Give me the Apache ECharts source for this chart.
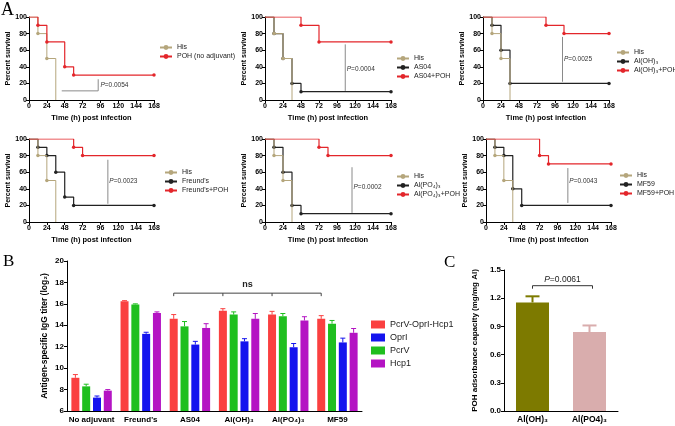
<!DOCTYPE html>
<html><head><meta charset="utf-8">
<script src="https://cdn.jsdelivr.net/npm/echarts@6/dist/echarts.min.js"></script>
<style>html,body{margin:0;padding:0;background:#fff}#c{width:675px;height:426px}</style>
</head><body><div id="c"></div>
<script>
// ---------- DATA ----------
// Panel A: Kaplan-Meier curves [time (h), percent survival]
const hisCurve   = [[0,100],[12,80],[24,50],[36,0]];
const pohNoAdj   = [[0,100],[12,90],[24,70],[48,40],[60,30],[168,30]];
const as04       = [[0,100],[12,80],[24,50],[36,20],[48,10],[168,10]];
const as04Poh    = [[0,100],[48,90],[72,70],[168,70]];
const alOH       = [[0,100],[12,90],[24,60],[36,20],[168,20]];
const alOHPoh    = [[0,100],[84,90],[108,80],[168,80]];
const freund     = [[0,100],[12,90],[24,80],[36,60],[48,30],[60,20],[168,20]];
const freundPoh  = [[0,100],[60,90],[72,80],[168,80]];
const alPO       = [[0,100],[12,90],[24,60],[36,20],[48,10],[168,10]];
const alPOPoh    = [[0,100],[72,90],[84,80],[168,80]];
const mf59       = [[0,100],[12,90],[24,80],[36,40],[48,20],[168,20]];
const mf59Poh    = [[0,100],[72,80],[84,70],[168,70]];
const pValuesA   = ['0.0054','0.0004','0.0025','0.0023','0.0002','0.0043'];

// Panel B: IgG titers (log2), mean and SEM
const groupsB   = ['No adjuvant', "Freund's", 'AS04', 'Al(OH)\u2083', 'Al(PO\u2084)\u2083', 'MF59'];
const fusion    = [9.1, 16.25, 14.6, 15.35, 15.0, 14.6];
const fusionErr = [0.3, 0.05, 0.4, 0.2, 0.3, 0.3];
const pcrv      = [8.3, 15.95, 13.9, 15.0, 14.85, 14.15];
const pcrvErr   = [0.2, 0.05, 0.45, 0.25, 0.25, 0.3];
const oprI      = [7.25, 13.2, 12.2, 12.5, 11.95, 12.4];
const oprIErr   = [0.15, 0.15, 0.3, 0.25, 0.35, 0.4];
const hcp1      = [7.9, 15.15, 13.75, 14.6, 14.45, 13.3];
const hcp1Err   = [0.1, 0.1, 0.4, 0.5, 0.35, 0.4];

// Panel C: POH adsorbance capacity
const groupsC   = ['Al(OH)\u2083', 'Al(PO4)\u2083'];
const adsorb    = [1.155, 0.84];
const adsorbErr = [0.065, 0.07];
const pValueC   = '0.0061';

// ---------- STYLE / LAYOUT ----------
const FONT = '"Liberation Sans", Arial, Helvetica, sans-serif';
const HIS = '#b5a67c', RED = '#e3262b', BLK = '#222222';
const BAR_COLORS = ['#fa4040', '#1fbf1f', '#1414ee', '#b414c3'];
const C_COLORS = ['#7d7a00', '#d9adad'];
const BW = 8, BGAP = 0.35;

const panelsA = [
  {grid:{left:29,top:17,width:125,height:83}, curves:[['His',hisCurve,'his'],['POH (no adjuvant)',pohNoAdj,'red']],
   legend:{left:159,top:44}, pLine:[[44,11],[93,11],[93,25]], pText:[96,18]},
  {grid:{left:265,top:17,width:126,height:83}, curves:[['His',hisCurve,'his'],['AS04',as04,'blk'],['AS04+POH',as04Poh,'red']],
   legend:{left:396,top:55}, pLine:[[107,11],[107,67]], pText:[109,37]},
  {grid:{left:483,top:17,width:126,height:83}, curves:[['His',hisCurve,'his'],['Al(OH)\u2083',alOH,'blk'],['Al(OH)\u2083+POH',alOHPoh,'red']],
   legend:{left:616,top:49}, pLine:[[106,22],[106,76]], pText:[108,49]},
  {grid:{left:29,top:139,width:125,height:83}, curves:[['His',hisCurve,'his'],["Freund's",freund,'blk'],["Freund's+POH",freundPoh,'red']],
   legend:{left:164,top:169}, pLine:[[106,22],[106,75]], pText:[108,49]},
  {grid:{left:265,top:139,width:126,height:83}, curves:[['His',hisCurve,'his'],['Al(PO\u2084)\u2083',alPO,'blk'],['Al(PO\u2084)\u2083+POH',alPOPoh,'red']],
   legend:{left:396,top:173}, pLine:[[116,11],[116,66]], pText:[118,42]},
  {grid:{left:486,top:139,width:125,height:83}, curves:[['His',hisCurve,'his'],['MF59',mf59,'blk'],['MF59+POH',mf59Poh,'red']],
   legend:{left:619,top:172}, pLine:[[110,23],[110,65]], pText:[112,49]}
];

const axisCommon = {
  axisLine:{show:true, lineStyle:{color:'#000', width:1}},
  axisTick:{show:true, length:3, lineStyle:{color:'#000', width:1}},
  splitLine:{show:false},
};

const grids = [], xAxes = [], yAxes = [], series = [], legends = [];

function stepSeries(gi, name, pts, kind) {
  const color = kind === 'his' ? HIS : kind === 'red' ? RED : BLK;
  return {
    type:'line', name, xAxisIndex:gi, yAxisIndex:gi, step:'end', color,
    data: pts.map((p,i) => (i === 0 || (kind === 'his' && i === pts.length-1)) ? {value:p, symbol:'none'} : p),
    symbol:'circle', symbolSize:3.5, showSymbol:true, showAllSymbol:true,
    lineStyle:{color, width: kind === 'his' ? 1 : 1.2}, itemStyle:{color},
    z: kind === 'red' ? 4 : (kind === 'his' ? 3 : 2), silent:true
  };
}

function pAnnot(gi, pts, tpos, ptxt) {
  return {
    type:'custom', xAxisIndex:gi, yAxisIndex:gi, silent:true, z:1, data:[[0,0]],
    renderItem:(params, api) => {
      const pp = pts.map(p => api.coord(p));
      const t = api.coord(tpos);
      return {type:'group', children:[
        {type:'polyline', shape:{points:pp}, style:{stroke:'#8a8a8a', lineWidth:1, fill:null}},
        {type:'text', x:t[0], y:t[1], style:{
          text:'{i|P}=' + ptxt, fontSize:6.5, fontFamily:FONT, fill:'#333',
          rich:{i:{fontStyle:'italic', fontSize:6.5, fontFamily:FONT, fill:'#333'}},
          verticalAlign:'middle', align:'left'}}
      ]};
    }
  };
}

panelsA.forEach((p, gi) => {
  grids.push(p.grid);
  xAxes.push(Object.assign({}, axisCommon, {
    gridIndex:gi, type:'value', min:0, max:168, interval:24,
    axisLabel:{fontSize:7, fontWeight:'bold', color:'#000', margin:3, fontFamily:FONT},
    name:'Time (h) post infection', nameLocation:'middle', nameGap:14,
    nameTextStyle:{fontSize:7.5, fontWeight:'bold', color:'#000', fontFamily:FONT}
  }));
  yAxes.push(Object.assign({}, axisCommon, {
    gridIndex:gi, type:'value', min:0, max:100, interval:20,
    axisLabel:{fontSize:7, fontWeight:'bold', color:'#000', margin:2, fontFamily:FONT},
    name:'Percent survival', nameLocation:'middle', nameGap:17,
    nameTextStyle:{fontSize:7, fontWeight:'bold', color:'#000', fontFamily:FONT}
  }));
  p.curves.forEach(c => series.push(stepSeries(gi, c[0], c[1], c[2])));
  series.push(pAnnot(gi, p.pLine, p.pText, pValuesA[gi]));
  legends.push({
    data:p.curves.map(c => c[0]), orient:'vertical', left:p.legend.left, top:p.legend.top,
    itemWidth:12, itemHeight:6, itemGap:2, padding:0, selectedMode:false,
    textStyle:{fontSize:7, color:'#222', fontFamily:FONT}
  });
});

// Panel B
const GB = 6;
grids.push({left:67, top:261, width:295, height:150});
xAxes.push({gridIndex:GB, type:'category', data:groupsB,
  axisLine:{show:true, lineStyle:{color:'#000', width:1}}, axisTick:{show:false},
  axisLabel:{interval:0, fontSize:8, fontWeight:'bold', color:'#000', margin:5, fontFamily:FONT}});
yAxes.push(Object.assign({}, axisCommon, {gridIndex:GB, type:'value', min:6, max:20, interval:2,
  axisLabel:{fontSize:8, fontWeight:'bold', color:'#000', margin:3, fontFamily:FONT},
  name:'Antigen-specific IgG titer (log\u2082)', nameLocation:'middle', nameGap:18,
  nameTextStyle:{fontSize:8.5, fontWeight:'bold', color:'#000', fontFamily:FONT}}));

const barSetsB = [
  ['PcrV-OprI-Hcp1', fusion, fusionErr],
  ['PcrV', pcrv, pcrvErr],
  ['OprI', oprI, oprIErr],
  ['Hcp1', hcp1, hcp1Err]
];
barSetsB.forEach((b, k) => {
  series.push({type:'bar', name:b[0], xAxisIndex:GB, yAxisIndex:GB, data:b[1],
    barWidth:BW, barGap:(BGAP*100)+'%', itemStyle:{color:BAR_COLORS[k]}, silent:true, z:2});
});
const errDataB = [];
barSetsB.forEach((b, k) => b[1].forEach((v, i) => errDataB.push([i, v, b[2][i], k])));
series.push({type:'custom', xAxisIndex:GB, yAxisIndex:GB, silent:true, z:3, data:errDataB,
  encode:{x:0, y:1},
  renderItem:(params, api) => {
    const c = api.value(0), v = api.value(1), e = api.value(2), k = api.value(3);
    const b = api.coord([c, v]), t = api.coord([c, v + e]);
    const x = b[0] + (k - 1.5) * BW * (1 + BGAP);
    const st = {stroke:BAR_COLORS[k], lineWidth:1};
    return {type:'group', children:[
      {type:'line', shape:{x1:x, y1:b[1], x2:x, y2:t[1]}, style:st},
      {type:'line', shape:{x1:x-2.5, y1:t[1], x2:x+2.5, y2:t[1]}, style:st}
    ]};
  }});
// "ns" bracket over AS04 .. MF59 (first bar of each group)
series.push({type:'custom', xAxisIndex:GB, yAxisIndex:GB, silent:true, z:3, data:[[2,17]],
  renderItem:(params, api) => {
    const off = -1.5 * BW * (1 + BGAP);
    const pts = [2,3,4,5].map(i => { const p = api.coord([i, 17]); return [p[0] + off, p[1]]; });
    const ch = [{type:'line', shape:{x1:pts[0][0], y1:pts[0][1], x2:pts[3][0], y2:pts[3][1]}, style:{stroke:'#444', lineWidth:1}}];
    pts.forEach(p => ch.push({type:'line', shape:{x1:p[0], y1:p[1], x2:p[0], y2:p[1]+3}, style:{stroke:'#444', lineWidth:1}}));
    ch.push({type:'text', x:(pts[0][0]+pts[3][0])/2, y:pts[0][1]-4, style:{text:'ns', fontSize:9, fontWeight:'bold',
      fontFamily:FONT, fill:'#222', align:'center', verticalAlign:'bottom'}});
    return {type:'group', children:ch};
  }});
legends.push({data:['PcrV-OprI-Hcp1','OprI','PcrV','Hcp1'], orient:'vertical', left:371, top:320,
  itemWidth:14, itemHeight:8, itemGap:4, padding:0, icon:'rect', selectedMode:false,
  textStyle:{fontSize:9, color:'#222', fontFamily:FONT}});

// Panel C
const GC = 7;
grids.push({left:504, top:270, width:114, height:141});
xAxes.push({gridIndex:GC, type:'category', data:groupsC,
  axisLine:{show:true, lineStyle:{color:'#000', width:1}}, axisTick:{show:false},
  axisLabel:{interval:0, fontSize:8.5, fontWeight:'bold', color:'#000', margin:4, fontFamily:FONT}});
yAxes.push(Object.assign({}, axisCommon, {gridIndex:GC, type:'value', min:0, max:1.5, interval:0.3,
  axisLabel:{fontSize:8, fontWeight:'bold', color:'#000', margin:3, fontFamily:FONT, formatter:v => v.toFixed(1)},
  name:'POH adsorbance capacity (mg/mg Al)', nameLocation:'middle', nameGap:25,
  nameTextStyle:{fontSize:8, fontWeight:'bold', color:'#000', fontFamily:FONT}}));
series.push({type:'bar', xAxisIndex:GC, yAxisIndex:GC, barWidth:33, silent:true, z:2,
  data:adsorb.map((v, i) => ({value:v, itemStyle:{color:C_COLORS[i]}}))});
series.push({type:'custom', xAxisIndex:GC, yAxisIndex:GC, silent:true, z:3,
  data:adsorb.map((v, i) => [i, v, adsorbErr[i]]), encode:{x:0, y:1},
  renderItem:(params, api) => {
    const c = api.value(0), v = api.value(1), e = api.value(2);
    const b = api.coord([c, v]), t = api.coord([c, v + e]);
    const st = {stroke:C_COLORS[c], lineWidth:2};
    return {type:'group', children:[
      {type:'line', shape:{x1:b[0], y1:b[1], x2:b[0], y2:t[1]}, style:st},
      {type:'line', shape:{x1:b[0]-7, y1:t[1], x2:b[0]+7, y2:t[1]}, style:st}
    ]};
  }});
series.push({type:'custom', xAxisIndex:GC, yAxisIndex:GC, silent:true, z:3, data:[[0,1.333]],
  renderItem:(params, api) => {
    const a = api.coord([0, 1.333]), b = api.coord([1, 1.333]);
    const st = {stroke:'#333', lineWidth:1};
    return {type:'group', children:[
      {type:'line', shape:{x1:a[0], y1:a[1], x2:b[0]+3, y2:a[1]}, style:st},
      {type:'line', shape:{x1:a[0], y1:a[1], x2:a[0], y2:a[1]+3}, style:st},
      {type:'line', shape:{x1:b[0]+3, y1:a[1], x2:b[0]+3, y2:a[1]+3}, style:st},
      {type:'text', x:(a[0]+b[0]+3)/2, y:a[1]-1.5, style:{text:'{i|P}=' + pValueC, fontSize:8.5, fontFamily:FONT, fill:'#222',
        rich:{i:{fontStyle:'italic', fontSize:8.5, fontFamily:FONT, fill:'#222'}}, align:'center', verticalAlign:'bottom'}}
    ]};
  }});

const chart = echarts.init(document.getElementById('c'));
chart.setOption({
  animation:false,
  backgroundColor:'#fff',
  textStyle:{fontFamily:FONT},
  grid:grids, xAxis:xAxes, yAxis:yAxes, series:series, legend:legends,
  graphic:[
    {type:'text', left:1, top:1, style:{text:'A', fontSize:18, fontFamily:'"Liberation Serif", "Times New Roman", serif', fill:'#000'}},
    {type:'text', left:3, top:253, style:{text:'B', fontSize:17, fontFamily:'"Liberation Serif", "Times New Roman", serif', fill:'#000'}},
    {type:'text', left:444, top:254, style:{text:'C', fontSize:17, fontFamily:'"Liberation Serif", "Times New Roman", serif', fill:'#000'}}
  ]
});
</script></body></html>
